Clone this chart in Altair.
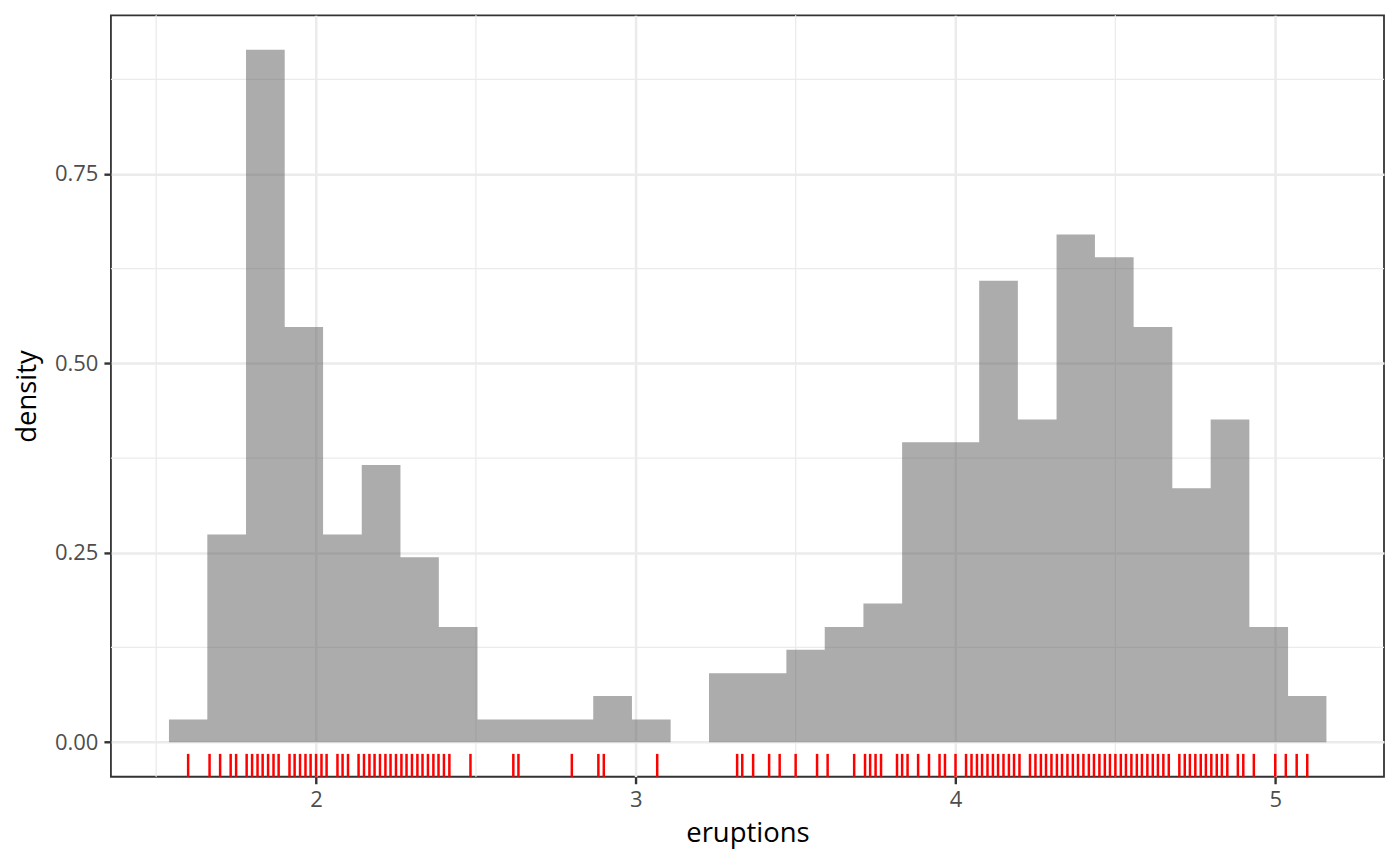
import altair as alt
import pandas as pd

# Histogram bins (edges) and densities
bin_edges = [1.540, 1.660, 1.781, 1.902, 2.022, 2.143, 2.264, 2.384, 2.505, 2.626,
             2.747, 2.867, 2.988, 3.109, 3.229, 3.350, 3.471, 3.591, 3.712, 3.833,
             3.953, 4.074, 4.195, 4.316, 4.436, 4.557, 4.678, 4.798, 4.919, 5.040, 5.160]
density = [0.030, 0.274, 0.914, 0.548, 0.274, 0.366, 0.244, 0.152, 0.030, 0.030,
           0.030, 0.061, 0.030, 0.000, 0.091, 0.091, 0.122, 0.152, 0.183, 0.396,
           0.396, 0.609, 0.426, 0.670, 0.640, 0.548, 0.335, 0.426, 0.152, 0.061]

# Rug positions (eruption durations)
rug = [1.6, 1.667, 1.7, 1.733, 1.75, 1.783, 1.8, 1.817, 1.833, 1.85, 1.867, 1.883,
       1.917, 1.933, 1.95, 1.967, 1.983, 2.0, 2.017, 2.033, 2.067, 2.083, 2.1, 2.133,
       2.15, 2.167, 2.183, 2.2, 2.217, 2.233, 2.25, 2.267, 2.283, 2.3, 2.317, 2.333,
       2.35, 2.367, 2.383, 2.4, 2.417, 2.483, 2.617, 2.633, 2.8, 2.883, 2.9, 3.067,
       3.317, 3.333, 3.367, 3.417, 3.45, 3.5, 3.567, 3.6, 3.683, 3.717, 3.733, 3.75,
       3.767, 3.817, 3.833, 3.85, 3.883, 3.917, 3.95, 3.967, 4.0, 4.033, 4.05, 4.067,
       4.083, 4.1, 4.117, 4.133, 4.15, 4.167, 4.183, 4.2, 4.233, 4.25, 4.267, 4.283,
       4.3, 4.317, 4.333, 4.35, 4.367, 4.383, 4.4, 4.417, 4.433, 4.45, 4.467, 4.483,
       4.5, 4.517, 4.533, 4.55, 4.567, 4.583, 4.6, 4.617, 4.633, 4.65, 4.667, 4.7,
       4.717, 4.733, 4.75, 4.767, 4.783, 4.8, 4.817, 4.833, 4.85, 4.883, 4.9, 4.933,
       5.0, 5.033, 5.067, 5.1]

x_ticks = [2, 3, 4, 5]
y_ticks = [0, 0.25, 0.5, 0.75]
x_minor = [1.5, 2.5, 3.5, 4.5]
y_minor = [0.125, 0.375, 0.625, 0.875]

X_DOMAIN = [1.3585, 5.3401]
Y_DOMAIN = [-0.0457, 0.9595]
W, H = 1274, 762

# step outline of the histogram: each bin's density held from its left edge to the next edge
step = pd.DataFrame({"x": bin_edges, "density": density + [density[-1]]})
rug_df = pd.DataFrame({"eruptions": rug})
xm = pd.DataFrame({"v": x_minor})
ym = pd.DataFrame({"v": y_minor})

xscale = alt.Scale(domain=X_DOMAIN, nice=False, zero=False)
yscale = alt.Scale(domain=Y_DOMAIN, nice=False, zero=False)

xaxis = alt.Axis(values=x_ticks, title="eruptions", format="d",
                 titleY=57, titleBaseline="middle")
yaxis = alt.Axis(values=y_ticks, title="density", format=".2f",
                 titleX=-83, titleBaseline="middle")

minor_x = alt.Chart(xm).mark_rule(color="#EBEBEB", strokeWidth=1.3).encode(
    x=alt.X("v:Q", scale=xscale, axis=xaxis)
)
minor_y = alt.Chart(ym).mark_rule(color="#EBEBEB", strokeWidth=1.3).encode(
    y=alt.Y("v:Q", scale=yscale, axis=yaxis)
)

hist = alt.Chart(step).mark_area(color="#595959", opacity=0.5,
                                 interpolate="step-after").encode(
    x=alt.X("x:Q", scale=xscale, axis=xaxis),
    y=alt.Y("density:Q", scale=yscale, axis=yaxis),
    y2=alt.datum(0),
)

rugs = alt.Chart(rug_df).mark_rule(color="#FF0000", strokeWidth=2.5).encode(
    x=alt.X("eruptions:Q", scale=xscale, axis=xaxis),
    y=alt.value(H),
    y2=alt.value(H - 22.9),
)

chart = alt.layer(minor_x, minor_y, hist, rugs).properties(
    width=W, height=H,
    autosize=alt.AutoSizeParams(type="none"),
    padding={"left": 103, "top": 7, "right": 8, "bottom": 80},
).configure(
    font="Open Sans",
).configure_view(
    stroke="#333333", strokeWidth=1.8, fill="white",
).configure_axis(
    domain=False,
    grid=True, gridColor="#EBEBEB", gridWidth=2.5,
    ticks=True, tickColor="#333333", tickWidth=2.4, tickSize=7,
    labelFont="Open Sans", labelFontSize=22, labelColor="#4D4D4D", labelPadding=6,
    titleFont="Open Sans", titleFontSize=27.5, titleColor="#000000", titleFontWeight="normal",
    labelFlush=False, labelOverlap=False,
).configure_axisY(
    labelPadding=6,
)

chart.save("out.html", embed_options={"renderer": "svg", "actions": False})
